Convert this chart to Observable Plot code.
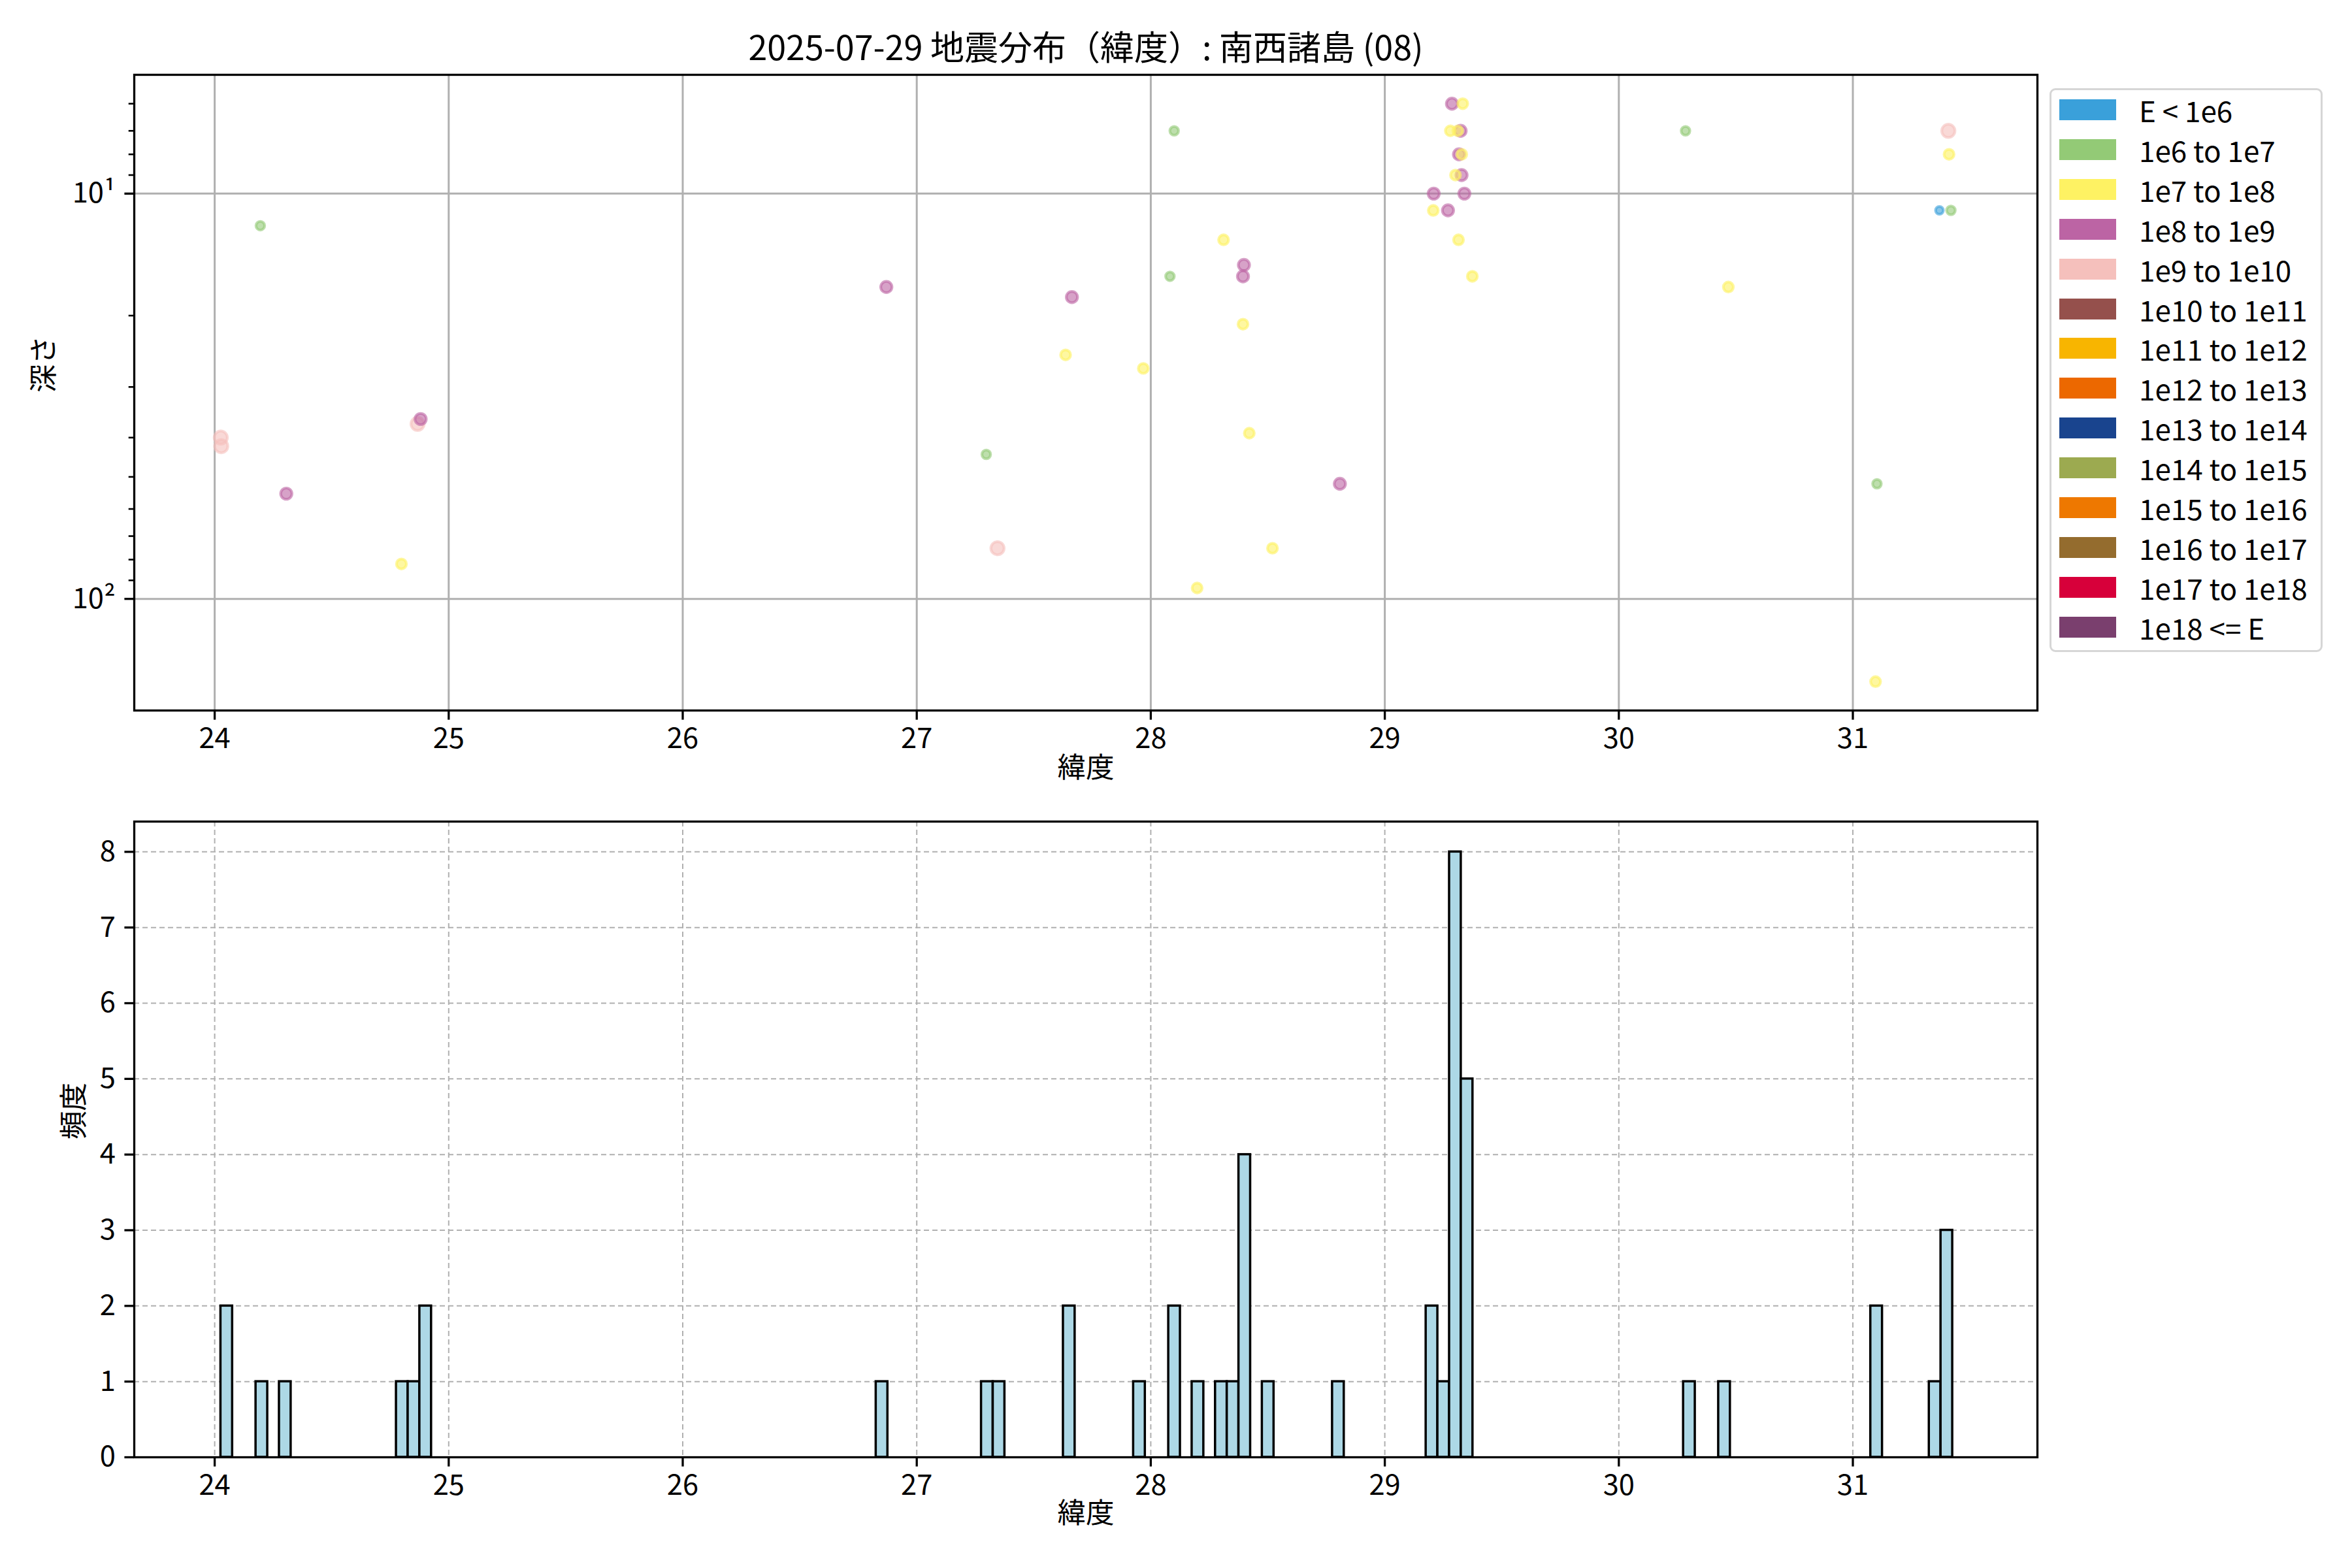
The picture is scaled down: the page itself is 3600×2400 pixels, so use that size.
<!DOCTYPE html>
<html>
<head>
<meta charset="utf-8">
<script src="https://cdn.jsdelivr.net/npm/d3@7"></script>
<script src="https://cdn.jsdelivr.net/npm/@observablehq/plot@0.6"></script>
<style>
  html, body { margin: 0; padding: 0; background: #fff; }
  #root { position: relative; width: 3600px; height: 2400px; background: #fff; overflow: hidden;
          font-family: 'Noto Sans CJK JP', 'Noto Sans', sans-serif; }
  #root svg { position: absolute; left: 0; overflow: visible; }
  #legend { position: absolute; left: 3137px; top: 135px; width: 418px; height: 863px;
            box-sizing: border-box; border: 3.7px solid #d6d6d6; border-radius: 9px; background: rgba(255,255,255,0.8); }
  .lg-row { position: absolute; left: 0; height: 0; }
  .lg-sw { position: absolute; left: 12px; width: 87px; height: 32px; top: -16px; }
  .lg-tx { position: absolute; left: 134px; top: -30px; font-size: 44px; line-height: 60px; white-space: nowrap; color: #000; }
</style>
</head>
<body>
<div id="root"><div id="legend"></div></div>
<script>
// ---------------- data ----------------
const title = "2025-07-29 地震分布（緯度）: 南西諸島 (08)";
const xLabel = "緯度";
const yLabelTop = "深さ";
const yLabelBottom = "頻度";

// energy classes (legend order)
const classLabels = ["E < 1e6", "1e6 to 1e7", "1e7 to 1e8", "1e8 to 1e9", "1e9 to 1e10",
  "1e10 to 1e11", "1e11 to 1e12", "1e12 to 1e13", "1e13 to 1e14", "1e14 to 1e15",
  "1e15 to 1e16", "1e16 to 1e17", "1e17 to 1e18", "1e18 <= E"];
const classColors = ["#3aa0da", "#93ca76", "#fef263", "#bc64a4", "#f5c0bc",
  "#95504c", "#f8b500", "#ec6800", "#19448e", "#9caa50",
  "#ee7800", "#946c2e", "#d7003a", "#7a3f6e"];

// events: latitude, depth (km; 0 = not drawable on log axis), energy class index
const latitudes = [24.026, 24.028, 24.195, 24.306, 24.798, 24.867, 24.880, 24.900,
  26.870, 27.297, 27.345, 27.636, 27.663, 27.968, 28.082, 28.100, 28.198, 28.311,
  28.350, 28.398, 28.394, 28.394, 28.421, 28.520, 28.808,
  29.207, 29.209, 29.270, 29.280, 29.287, 29.300, 29.302, 29.312, 29.315, 29.317,
  29.324, 29.328, 29.329, 29.333, 29.340, 29.374,
  30.285, 30.468, 31.097, 31.103, 31.370, 31.408, 31.411, 31.419];
const depths = [40, 42, 12, 55, 82, 37, 36, 0,
  17, 44, 75, 25, 18, 27, 16, 7, 94, 13,
  0, 15, 16, 21, 39, 75, 52,
  11, 10, 11, 7, 6, 0, 9, 7, 13, 8,
  7, 9, 8, 6, 10, 16,
  7, 17, 160, 52, 11, 7, 8, 11];
const energyClass = [4, 4, 1, 3, 2, 4, 3, 2,
  3, 1, 4, 2, 3, 2, 1, 1, 2, 2,
  2, 3, 3, 2, 2, 2, 3,
  2, 3, 3, 2, 3, 2, 2, 2, 2, 3,
  3, 3, 2, 2, 3, 2,
  1, 2, 2, 1, 0, 4, 2, 1];

const xTicks = [24, 25, 26, 27, 28, 29, 30, 31];
const yMajorTicks = [10, 100];
const yMinorTicks = [6, 7, 8, 9, 20, 30, 40, 50, 60, 70, 80, 90];
const countTicks = [0, 1, 2, 3, 4, 5, 6, 7, 8];
const binWidth = 0.05;

// ---------------- styles ----------------
const FONT = "'Noto Sans CJK JP', 'Noto Sans', sans-serif";
const classRadius = [5.9, 6.6, 7.6, 8.6, 10.1, 11, 11.8, 12.6, 13.4, 14.2, 15, 15.8, 16.6, 17.4];
const SPINE = 3.3, TICK = 14.6, MINOR = 8.3, FS = 43.5;

// ---------------- derived ----------------
const events = latitudes.map((lat, i) => ({lat, depth: depths[i], cls: energyClass[i]}));
const shown = events.filter(d => d.depth > 0);

const [latMin, latMax] = d3.extent(latitudes);
const xPad = (latMax - latMin) * 0.05;
const xDomain = [latMin - xPad, latMax + xPad];

const [dMin, dMax] = d3.extent(shown, d => d.depth);
const lMin = Math.log10(dMin), lMax = Math.log10(dMax), lPad = (lMax - lMin) * 0.05;
const yDomain = [Math.pow(10, lMin - lPad), Math.pow(10, lMax + lPad)];

const nBins = Math.ceil((latMax - latMin) / binWidth + 1e-9);
const thresholds = d3.range(nBins + 1).map(i => latMin + i * binWidth);
const counts = d3.bin().domain([thresholds[0], thresholds[thresholds.length - 1]]).thresholds(thresholds.slice(1, -1))(latitudes).map(b => b.length);
const yMaxCount = d3.max(counts) * 1.05;

const root = document.getElementById("root");

// ---------------- top: scatter ----------------
const scatterChart = Plot.plot({
  width: 3600, height: 1240,
  marginLeft: 205, marginRight: 482, marginTop: 114, marginBottom: 153,
  style: {fontFamily: FONT, fontSize: FS + "px", background: "transparent", color: "black", overflow: "visible"},
  x: {domain: xDomain},
  y: {type: "log", domain: yDomain, reverse: true},
  r: {type: "identity"},
  color: {domain: classLabels, range: classColors},
  marks: [
    Plot.gridX({ticks: xTicks, stroke: "#b0b0b0", strokeOpacity: 1, strokeWidth: 3}),
    Plot.gridY({ticks: yMajorTicks, stroke: "#b0b0b0", strokeOpacity: 1, strokeWidth: 3}),
    Plot.dot(shown, {x: "lat", y: "depth", r: d => classRadius[d.cls],
      fill: d => classLabels[d.cls], stroke: d => classLabels[d.cls],
      fillOpacity: 0.6, strokeOpacity: 0.6, strokeWidth: 4.2}),
    Plot.frame({stroke: "black", strokeWidth: SPINE}),
    Plot.axisX({ticks: xTicks, tickFormat: d => String(d), tickSize: TICK, tickPadding: 12, strokeWidth: SPINE, label: null}),
    Plot.axisY({ticks: yMajorTicks, tickFormat: d => d === 10 ? "10¹" : "10²", tickSize: TICK, tickPadding: 14, strokeWidth: SPINE, label: null}),
    Plot.axisY({ticks: yMinorTicks, tickFormat: () => "", tickSize: MINOR, strokeWidth: 2.6, label: null}),
    Plot.text([yLabelTop], {text: d => d, frameAnchor: "left", dx: -137, rotate: -90, fontSize: FS}),
    Plot.text([xLabel], {text: d => d, frameAnchor: "bottom", dy: 102, fontSize: FS}),
    Plot.text([title], {text: d => d, frameAnchor: "top", dy: -59, fontSize: 52})
  ]
});
scatterChart.style.top = "0px";
root.appendChild(scatterChart);

// ---------------- bottom: histogram ----------------
const histChart = Plot.plot({
  width: 3600, height: 1160,
  marginLeft: 205, marginRight: 482, marginTop: 17, marginBottom: 170,
  style: {fontFamily: FONT, fontSize: FS + "px", background: "transparent", color: "black", overflow: "visible"},
  x: {domain: xDomain},
  y: {domain: [0, yMaxCount]},
  marks: [
    Plot.gridX({ticks: xTicks, stroke: "#b0b0b0", strokeOpacity: 1, strokeWidth: 2, strokeDasharray: "8,5"}),
    Plot.gridY({ticks: countTicks, stroke: "#b0b0b0", strokeOpacity: 1, strokeWidth: 2, strokeDasharray: "8,5"}),
    Plot.rectY(events, Plot.binX({y: "count"}, {x: "lat", thresholds, fill: "#add8e6", stroke: "black", strokeWidth: 3.5, inset: 0})),
    Plot.frame({stroke: "black", strokeWidth: SPINE}),
    Plot.axisX({ticks: xTicks, tickFormat: d => String(d), tickSize: TICK, tickPadding: 12, strokeWidth: SPINE, label: null}),
    Plot.axisY({ticks: countTicks, tickFormat: d => String(d), tickSize: TICK, tickPadding: 14, strokeWidth: SPINE, label: null}),
    Plot.text([yLabelBottom], {text: d => d, frameAnchor: "left", dx: -91, rotate: -90, fontSize: FS}),
    Plot.text([xLabel], {text: d => d, frameAnchor: "bottom", dy: 100, fontSize: FS})
  ]
});
histChart.style.top = "1240px";
root.appendChild(histChart);

// ---------------- legend ----------------
const legend = document.getElementById("legend");
classLabels.forEach((lab, i) => {
  const row = document.createElement("div");
  row.className = "lg-row";
  row.style.top = (30 + 60.9 * i) + "px";
  const sw = document.createElement("div");
  sw.className = "lg-sw";
  sw.style.background = classColors[i];
  const tx = document.createElement("div");
  tx.className = "lg-tx";
  tx.textContent = lab;
  row.appendChild(sw); row.appendChild(tx);
  legend.appendChild(row);
});
</script>
</body>
</html>
